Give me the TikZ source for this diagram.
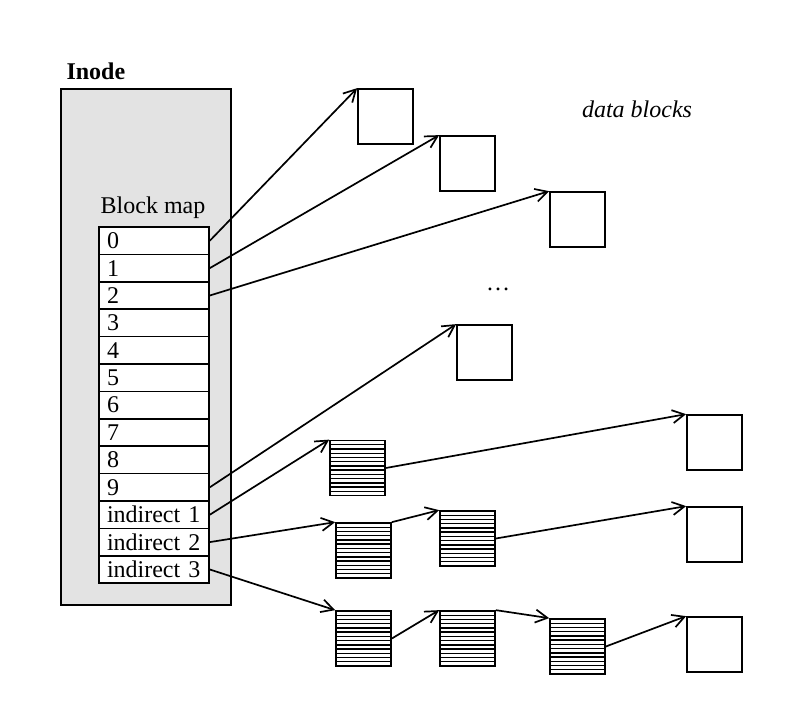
\documentclass[tikz,border=0pt]{standalone}
\usepackage{fontspec}
\setmainfont{Liberation Serif}
\usepackage{tikz}
\usetikzlibrary{arrows.meta}

\begin{document}
\begin{tikzpicture}[x=0.5pt, y=-0.5pt, line width=0.85pt,
        font=\fontsize{12}{14}\selectfont,
        ptr/.style={-{Straight Barb[length=6pt,width=6.5pt]}},
        datablock/.style={draw, fill=white, minimum size=27.5pt, inner sep=0pt},
        idxblock/.style={datablock, path picture={
            \foreach \k in {1,...,12}
                \draw[line width=0.7pt]
                    ([yshift=\k*2.115pt]path picture bounding box.south west) --
                    ([yshift=\k*2.115pt]path picture bounding box.south east);}},
        entry/.style={draw, fill=white, minimum width=55pt, minimum height=13.7pt,
            text width=47pt, inner xsep=4pt, inner ysep=0pt, align=left}]
        \useasboundingbox (0,0) rectangle (810,701);

        % Inode with its block map
        \node[draw, fill=black!11, minimum width=85pt, minimum height=258pt] (inode) at (146,347) {};
        \node[anchor=west, font=\fontsize{12}{14}\selectfont\bfseries] (title) at (59,71) {Inode};
        \node (maptitle) at (153,208) {Block map};
        \foreach \i in {0,...,9}
            \node[entry] (row\i) at (154,{240.7+27.4*\i}) {\i};
        \foreach \i in {1,2,3}
            \node[entry] (ind\i) at (154,{240.7+27.4*(9+\i)}) {indirect \i};

        % Direct data blocks
        \node[datablock] (blk0) at (385.5,116.5) {};
        \node[datablock] (blk1) at (467.5,163.5) {};
        \node[datablock] (blk2) at (577.5,219.5) {};
        \node[datablock] (blk9) at (484.5,352.5) {};
        \node (dots) at (498,289) {\dots};
        \node[font=\fontsize{12}{14}\selectfont\itshape] (caption) at (637,109) {data blocks};

        % Single, double and triple indirect
        \node[idxblock] (s1) at (357.5,468) {};
        \node[datablock] (sdat) at (714.5,442.5) {};
        \node[idxblock] (d1) at (363.5,550.5) {};
        \node[idxblock] (d2) at (467.5,538.5) {};
        \node[datablock] (ddat) at (714.5,534.5) {};
        \node[idxblock] (t1) at (363.5,638.5) {};
        \node[idxblock] (t2) at (467.5,638.5) {};
        \node[idxblock] (t3) at (577.5,646.5) {};
        \node[datablock] (tdat) at (714.5,644.5) {};

        \draw[ptr] (row0.east) -- (blk0.north west);
        \draw[ptr] (row1.east) -- (blk1.north west);
        \draw[ptr] (row2.east) -- (blk2.north west);
        \draw[ptr] (row9.east) -- (blk9.north west);

        \draw[ptr] (ind1.east) -- (s1.north west);
        \draw[ptr] (s1.east) -- (sdat.north west);

        \draw[ptr] (ind2.east) -- (d1.north west);
        \draw[ptr] (d1.north east) -- (d2.north west);
        \draw[ptr] (d2.east) -- (ddat.north west);

        \draw[ptr] (ind3.east) -- (t1.north west);
        \draw[ptr] (t1.east) -- (t2.north west);
        \draw[ptr] (t2.north east) -- (t3.north west);
        \draw[ptr] (t3.east) -- (tdat.north west);
    \end{tikzpicture}
\end{document}
